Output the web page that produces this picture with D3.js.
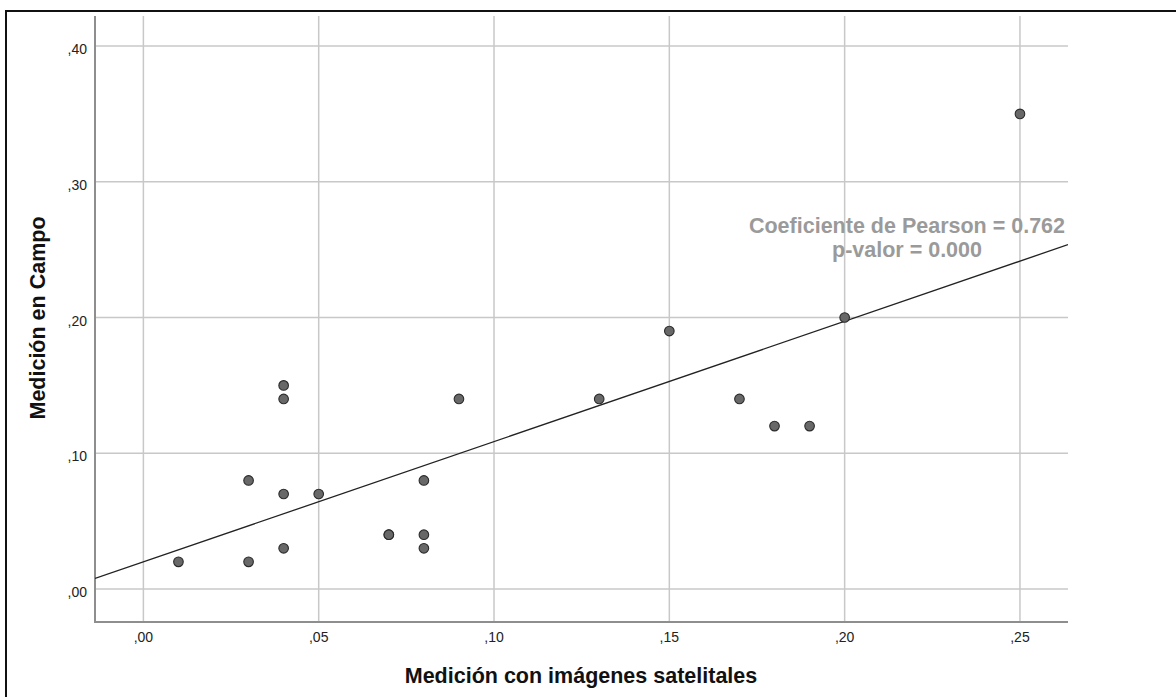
<!DOCTYPE html>
<html>
<head>
<meta charset="utf-8">
<style>
  body { margin: 0; background: #fff; }
  svg { display: block; font-family: "Liberation Sans", Arial, sans-serif; }
  .grid line { stroke: #c8c8c8; stroke-width: 1.5; }
  .tick-label { font-size: 14px; fill: #222; }
  .axis-title { font-size: 21.5px; font-weight: bold; fill: #111; }
  .note { font-size: 21.5px; font-weight: bold; fill: #9a9a9a; }
</style>
</head>
<body>
<svg width="1176" height="697"></svg>
<script src="https://d3js.org/d3.v7.min.js"></script>
<script>
// values
var satelite = [0.01, 0.03, 0.03, 0.04, 0.04, 0.04, 0.04, 0.05, 0.07, 0.07, 0.08, 0.08, 0.08, 0.09, 0.13, 0.15, 0.17, 0.18, 0.19, 0.20, 0.25];
var campo    = [0.02, 0.08, 0.02, 0.15, 0.14, 0.07, 0.03, 0.07, 0.04, 0.04, 0.08, 0.04, 0.03, 0.14, 0.14, 0.19, 0.14, 0.12, 0.12, 0.20, 0.35];
var xTicks = [0, 0.05, 0.10, 0.15, 0.20, 0.25];
var yTicks = [0, 0.10, 0.20, 0.30, 0.40];
var noteLines = ["Coeficiente de Pearson = 0.762", "p-valor = 0.000"];

var svg = d3.select("svg");

// frame (only top and left edges are inside the picture)
svg.append("rect")
    .attr("x", 6).attr("y", 11)
    .attr("width", 1300).attr("height", 800)
    .attr("fill", "none").attr("stroke", "#111").attr("stroke-width", 2);

var plot = { left: 95, right: 1068, top: 16, bottom: 622 };

var x = d3.scaleLinear().domain([-0.0138, 0.2637]).range([plot.left, plot.right]);
var y = d3.scaleLinear().domain([-0.0243, 0.4221]).range([plot.bottom, plot.top]);

var fmt = function(v) { return d3.format(".2f")(v).replace("0.", ","); };

svg.append("clipPath").attr("id", "clip")
  .append("rect")
    .attr("x", plot.left).attr("y", plot.top)
    .attr("width", plot.right - plot.left).attr("height", plot.bottom - plot.top);

// gridlines
var grid = svg.append("g").attr("class", "grid");
grid.selectAll(".gx").data(xTicks).enter().append("line")
    .attr("x1", function(d) { return x(d); }).attr("x2", function(d) { return x(d); })
    .attr("y1", plot.top).attr("y2", plot.bottom);
grid.selectAll(".gy").data(yTicks).enter().append("line")
    .attr("x1", plot.left).attr("x2", plot.right)
    .attr("y1", function(d) { return y(d); }).attr("y2", function(d) { return y(d); });

// axis lines
svg.append("path")
    .attr("d", "M" + plot.left + "," + plot.top + "V" + plot.bottom + "H" + plot.right)
    .attr("fill", "none").attr("stroke", "#8e8e8e").attr("stroke-width", 2);

// tick labels
svg.selectAll(".xl").data(xTicks).enter().append("text")
    .attr("class", "tick-label")
    .attr("x", function(d) { return x(d); })
    .attr("y", 642)
    .attr("text-anchor", "middle")
    .text(fmt);
svg.selectAll(".yl").data(yTicks).enter().append("text")
    .attr("class", "tick-label")
    .attr("x", 87)
    .attr("y", function(d) { return y(d) + 8; })
    .attr("text-anchor", "end")
    .text(fmt);

// least squares fit
var mx = d3.mean(satelite), my = d3.mean(campo);
var sxy = d3.sum(satelite, function(v, i) { return (v - mx) * (campo[i] - my); });
var sxx = d3.sum(satelite, function(v) { return (v - mx) * (v - mx); });
var slope = sxy / sxx, icpt = my - slope * mx;
var dom = x.domain();

svg.append("line")
    .attr("clip-path", "url(#clip)")
    .attr("x1", x(dom[0])).attr("y1", y(icpt + slope * dom[0]))
    .attr("x2", x(dom[1])).attr("y2", y(icpt + slope * dom[1]))
    .attr("stroke", "#222").attr("stroke-width", 1.3);

// points
svg.append("g").selectAll("circle")
    .data(satelite).enter().append("circle")
    .attr("cx", function(d) { return x(d); })
    .attr("cy", function(d, i) { return y(campo[i]); })
    .attr("r", 4.8)
    .attr("fill", "#686868")
    .attr("stroke", "#2a2a2a")
    .attr("stroke-width", 1.1);

// annotation
svg.selectAll(".note").data(noteLines).enter().append("text")
    .attr("class", "note")
    .attr("x", 907)
    .attr("y", function(d, i) { return 233 + i * 24; })
    .attr("text-anchor", "middle")
    .text(function(d) { return d; });

// axis titles
svg.append("text")
    .attr("class", "axis-title")
    .attr("x", 581).attr("y", 683)
    .attr("text-anchor", "middle")
    .text("Medición con imágenes satelitales");
svg.append("text")
    .attr("class", "axis-title")
    .attr("transform", "translate(45,318) rotate(-90)")
    .attr("text-anchor", "middle")
    .text("Medición en Campo");
</script>
</body>
</html>
